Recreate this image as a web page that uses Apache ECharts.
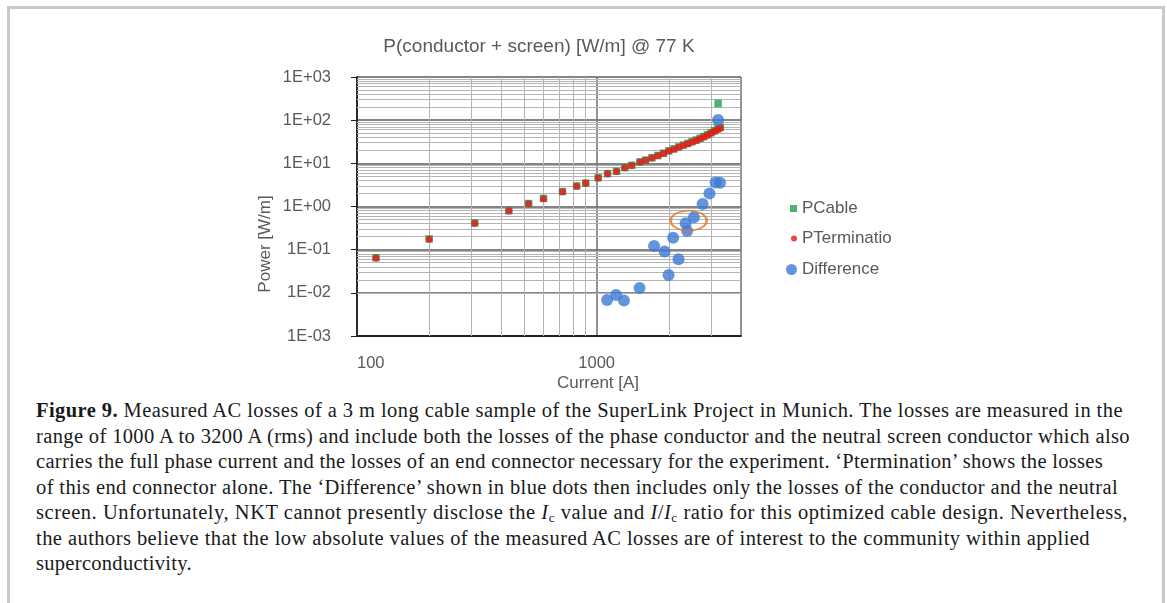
<!DOCTYPE html>
<html><head><meta charset="utf-8">
<script src="https://cdn.jsdelivr.net/npm/echarts@6/dist/echarts.min.js"></script>
<style>
html,body{margin:0;padding:0;background:#fff;width:1167px;height:603px;overflow:hidden;}
#frame{position:absolute;left:7px;top:6px;width:1152px;height:700px;border:3px solid #c9c9c9;}
#chart{position:absolute;left:0;top:0;width:1167px;height:395px;}
#cap{position:absolute;left:36px;top:398px;font-family:"Liberation Serif","DejaVu Serif",serif;font-size:20.5px;line-height:25.5px;color:#1a1a1a;white-space:nowrap;}
#cap .ln{display:block;}
#cap .ln span{display:inline-block;}
#cap sub{font-size:0.65em;vertical-align:-0.25em;line-height:0;}
</style></head><body>
<div id="frame"></div>
<div id="chart"></div>
<div id="cap">
<div class="ln"><span><b>Figure 9.</b> Measured AC losses of a 3 m long cable sample of the SuperLink Project in Munich. The losses are measured in the</span></div>
<div class="ln"><span>range of 1000 A to 3200 A (rms) and include both the losses of the phase conductor and the neutral screen conductor which also</span></div>
<div class="ln"><span>carries the full phase current and the losses of an end connector necessary for the experiment. ‘Ptermination’ shows the losses</span></div>
<div class="ln"><span>of this end connector alone. The ‘Difference’ shown in blue dots then includes only the losses of the conductor and the neutral</span></div>
<div class="ln"><span>screen. Unfortunately, NKT cannot presently disclose the <i>I</i><sub>c</sub> value and <i>I</i>/<i>I</i><sub>c</sub> ratio for this optimized cable design. Nevertheless,</span></div>
<div class="ln"><span>the authors believe that the low absolute values of the measured AC losses are of interest to the community within applied</span></div>
<div class="ln"><span>superconductivity.</span></div>
</div>
<script>
// ---- data ----
const pCableI = [120, 200, 310, 430, 520, 600, 720, 825, 900, 1015, 1110, 1210, 1310, 1400, 1515, 1600, 1700, 1800, 1900, 2000, 2100, 2200, 2300, 2400, 2500, 2600, 2700, 2800, 2900, 3000, 3100, 3200, 3280, 3210];
const pCableP = [0.065, 0.177, 0.415, 0.8, 1.17, 1.54, 2.22, 2.99, 3.5, 4.65, 5.75, 6.55, 7.95, 9.0, 10.8, 11.9, 13.5, 15.2, 17.2, 19.5, 21.6, 24.0, 26.5, 29.0, 31.8, 34.6, 38.0, 41.8, 46.2, 51.5, 56.5, 63, 68, 245];
const pTermI = [120, 200, 310, 430, 520, 600, 720, 825, 900, 1015, 1110, 1210, 1310, 1400, 1515, 1600, 1700, 1800, 1900, 2000, 2100, 2200, 2300, 2400, 2500, 2600, 2700, 2800, 2900, 3000, 3100, 3200, 3280];
const pTermP = [0.064, 0.175, 0.41, 0.79, 1.16, 1.52, 2.19, 2.95, 3.45, 4.6, 5.7, 6.5, 7.9, 8.9, 10.7, 11.8, 13.3, 15.0, 17.0, 19.2, 21.3, 23.6, 26.0, 28.5, 31.2, 34.0, 37.2, 40.8, 45, 50, 55, 61, 66];
const diffI = [1105, 1205, 1300, 1510, 1735, 1920, 1995, 2085, 2195, 2350, 2385, 2545, 2765, 2955, 3135, 3270, 3210];
const diffP = [0.0068, 0.0089, 0.0066, 0.0129, 0.122, 0.091, 0.026, 0.19, 0.060, 0.41, 0.27, 0.56, 1.14, 2.0, 3.6, 3.55, 101];
const highlightI = [2420];
const highlightP = [0.47];
const xTickLabels = ['100', '1000'];
const yTickLabels = ['1E-03', '1E-02', '1E-01', '1E+00', '1E+01', '1E+02', '1E+03'];
const xMinorTicks = [200, 300, 400, 500, 600, 700, 800, 900, 2000, 3000];
const yMinorTicks = [0.002, 0.003, 0.004, 0.005, 0.006, 0.007, 0.008, 0.009,
  0.02, 0.03, 0.04, 0.05, 0.06, 0.07, 0.08, 0.09,
  0.2, 0.3, 0.4, 0.5, 0.6, 0.7, 0.8, 0.9,
  2, 3, 4, 5, 6, 7, 8, 9,
  20, 30, 40, 50, 60, 70, 80, 90,
  200, 300, 400, 500, 600, 700, 800, 900];
const titleText = 'P(conductor + screen) [W/m] @ 77 K';
const xName = 'Current [A]';
const yName = 'Power [W/m]';

// caption line right ends (layout, px)
const capRight = [1123, 1130, 1103, 1118, 1128, 1090, 192];
document.querySelectorAll('#cap .ln span').forEach((s, i) => {
  const t = capRight[i];
  if (!t) return;
  const target = t - 36;
  const w = s.getBoundingClientRect().width;
  const n = s.textContent.length;
  if (n > 1) s.style.letterSpacing = ((target - w) / n).toFixed(3) + 'px';
});

const zip = (a, b) => a.map((v, i) => [v, b[i]]);
const isPow10 = v => Math.abs(Math.log10(v) - Math.round(Math.log10(v))) < 1e-6;
const grey = '#595959';
const sans = '"Liberation Sans", Arial, sans-serif';

const chart = echarts.init(document.getElementById('chart'), null, {renderer: 'canvas'});
const lg = (name, icon, size, left, top) => ({
  data: [name], orient: 'vertical', left: left, top: top, icon: icon,
  itemWidth: size, itemHeight: size, itemGap: 0, selectedMode: false,
  textStyle: {color: grey, fontSize: 17, fontFamily: sans,
    width: name === 'PTermination' ? 96 : undefined,
    overflow: name === 'PTermination' ? 'truncate' : 'none', ellipsis: ''}
});
chart.setOption({
  animation: false,
  grid: {left: 357, top: 77, width: 384, height: 259, containLabel: false},
  legend: [
    lg('PCable', 'rect', 7, 785, 195),
    lg('PTermination', 'circle', 6, 786, 225),
    lg('Difference', 'circle', 11, 781, 256)
  ],
  graphic: [
    {type: 'text', x: 539, y: 47, style: {text: titleText, fill: grey, font: '19px ' + sans, textAlign: 'center', textVerticalAlign: 'middle'}},
    {type: 'text', x: 598, y: 383, style: {text: xName, fill: grey, font: '17px ' + sans, textAlign: 'center', textVerticalAlign: 'middle'}},
    {type: 'text', x: 265, y: 244, rotation: Math.PI / 2, style: {text: yName, fill: grey, font: '17px ' + sans, textAlign: 'center', textVerticalAlign: 'middle'}}
  ],
  xAxis: {
    type: 'log', logBase: 10, min: 100, max: 4000,
    axisLine: {show: true, lineStyle: {color: '#222', width: 1.8}},
    axisTick: {show: false},
    axisLabel: {color: grey, fontSize: 16.5, fontFamily: sans, margin: 19, showMaxLabel: false, alignMinLabel: 'left',
      formatter: v => isPow10(v) ? (xTickLabels[Math.round(Math.log10(v)) - 2] || '') : ''},
    splitLine: {show: true, lineStyle: {color: '#6e6e6e', width: 1.5}}
  },
  yAxis: {
    type: 'log', logBase: 10, min: 0.001, max: 1000,
    axisLine: {show: true, lineStyle: {color: '#222', width: 1.8}},
    axisTick: {show: true, inside: false, length: 6, lineStyle: {color: '#222'}},
    axisLabel: {color: grey, fontSize: 16.5, fontFamily: sans, margin: 26,
      formatter: v => isPow10(v) ? (yTickLabels[Math.round(Math.log10(v)) + 3] || '') : ''},
    splitLine: {show: true, lineStyle: {color: '#858585', width: 2}}
  },
  series: [
    {type: 'line', data: [], silent: true, z: 1,
     markLine: {silent: true, z: 1, symbol: 'none', label: {show: false}, animation: false,
       lineStyle: {color: '#b4b4b4', width: 1, type: 'solid'},
       emphasis: {disabled: true},
       data: [...xMinorTicks.map(v => ({xAxis: v})), ...yMinorTicks.map(v => ({yAxis: v}))]}},
    {name: 'PCable', type: 'scatter', symbol: 'rect', symbolSize: 7.5, itemStyle: {color: '#1f9e4e'}, data: zip(pCableI, pCableP)},
    {name: 'PTermination', type: 'scatter', symbol: 'circle', symbolSize: 7, itemStyle: {color: '#f01616'}, data: zip(pTermI, pTermP)},
    {name: 'Difference', type: 'scatter', symbol: 'circle', symbolSize: 12, itemStyle: {color: '#3b7bd6'}, data: zip(diffI, diffP)},
    {name: 'highlight', type: 'scatter', symbol: 'circle', symbolSize: [36, 20], silent: true, z: 3,
     itemStyle: {color: 'rgba(0,0,0,0)', borderColor: '#e5742b', borderWidth: 2}, data: zip(highlightI, highlightP)}
  ]
});
</script>
</body></html>
